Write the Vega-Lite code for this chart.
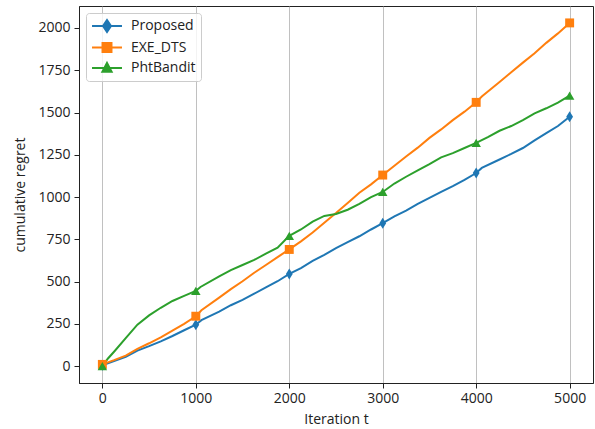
{
  "$schema": "https://vega.github.io/schema/vega-lite/v6.json",
  "width": 514,
  "height": 377,
  "autosize": "none",
  "padding": {"left": 79, "top": 6, "right": 2, "bottom": 46},
  "background": "white",
  "config": {
    "view": {"stroke": "#222", "strokeWidth": 1},
    "font": "Open Sans",
    "axis": {
      "labelFont": "Open Sans",
      "titleFont": "Open Sans",
      "labelFontSize": 14,
      "titleFontSize": 14,
      "labelColor": "#222",
      "titleColor": "#222",
      "titleFontWeight": "normal",
      "domainColor": "#222",
      "tickColor": "#222",
      "tickSize": 5,
      "labelPadding": 4,
      "format": "d"
    }
  },
  "data": {
    "values": [
      {"t": 0, "s": "Proposed", "v": 5},
      {"t": 125, "s": "Proposed", "v": 30},
      {"t": 250, "s": "Proposed", "v": 55},
      {"t": 375, "s": "Proposed", "v": 92},
      {"t": 500, "s": "Proposed", "v": 118},
      {"t": 625, "s": "Proposed", "v": 146},
      {"t": 750, "s": "Proposed", "v": 178},
      {"t": 875, "s": "Proposed", "v": 212},
      {"t": 1000, "s": "Proposed", "v": 245},
      {"t": 1060, "s": "Proposed", "v": 272},
      {"t": 1250, "s": "Proposed", "v": 322},
      {"t": 1375, "s": "Proposed", "v": 360},
      {"t": 1500, "s": "Proposed", "v": 392},
      {"t": 1625, "s": "Proposed", "v": 428},
      {"t": 1750, "s": "Proposed", "v": 465},
      {"t": 1875, "s": "Proposed", "v": 502},
      {"t": 2000, "s": "Proposed", "v": 545},
      {"t": 2125, "s": "Proposed", "v": 580},
      {"t": 2250, "s": "Proposed", "v": 622},
      {"t": 2375, "s": "Proposed", "v": 658},
      {"t": 2500, "s": "Proposed", "v": 698},
      {"t": 2625, "s": "Proposed", "v": 733},
      {"t": 2750, "s": "Proposed", "v": 768},
      {"t": 2875, "s": "Proposed", "v": 808},
      {"t": 3000, "s": "Proposed", "v": 845},
      {"t": 3125, "s": "Proposed", "v": 885},
      {"t": 3250, "s": "Proposed", "v": 920},
      {"t": 3375, "s": "Proposed", "v": 960},
      {"t": 3500, "s": "Proposed", "v": 995},
      {"t": 3625, "s": "Proposed", "v": 1030},
      {"t": 3750, "s": "Proposed", "v": 1065},
      {"t": 3875, "s": "Proposed", "v": 1102},
      {"t": 4000, "s": "Proposed", "v": 1142},
      {"t": 4060, "s": "Proposed", "v": 1172},
      {"t": 4250, "s": "Proposed", "v": 1222},
      {"t": 4375, "s": "Proposed", "v": 1255},
      {"t": 4500, "s": "Proposed", "v": 1290},
      {"t": 4625, "s": "Proposed", "v": 1335},
      {"t": 4750, "s": "Proposed", "v": 1378},
      {"t": 4875, "s": "Proposed", "v": 1420},
      {"t": 5000, "s": "Proposed", "v": 1475},
      {"t": 0, "s": "EXE_DTS", "v": 10},
      {"t": 125, "s": "EXE_DTS", "v": 35},
      {"t": 250, "s": "EXE_DTS", "v": 62},
      {"t": 375, "s": "EXE_DTS", "v": 102},
      {"t": 500, "s": "EXE_DTS", "v": 135},
      {"t": 625, "s": "EXE_DTS", "v": 170},
      {"t": 750, "s": "EXE_DTS", "v": 210},
      {"t": 875, "s": "EXE_DTS", "v": 250},
      {"t": 1000, "s": "EXE_DTS", "v": 295},
      {"t": 1060, "s": "EXE_DTS", "v": 330},
      {"t": 1250, "s": "EXE_DTS", "v": 405},
      {"t": 1375, "s": "EXE_DTS", "v": 455},
      {"t": 1500, "s": "EXE_DTS", "v": 502},
      {"t": 1625, "s": "EXE_DTS", "v": 552},
      {"t": 1750, "s": "EXE_DTS", "v": 598},
      {"t": 1875, "s": "EXE_DTS", "v": 645},
      {"t": 2000, "s": "EXE_DTS", "v": 690},
      {"t": 2125, "s": "EXE_DTS", "v": 738},
      {"t": 2250, "s": "EXE_DTS", "v": 790},
      {"t": 2375, "s": "EXE_DTS", "v": 848},
      {"t": 2500, "s": "EXE_DTS", "v": 905},
      {"t": 2625, "s": "EXE_DTS", "v": 965},
      {"t": 2750, "s": "EXE_DTS", "v": 1025},
      {"t": 2875, "s": "EXE_DTS", "v": 1075},
      {"t": 3000, "s": "EXE_DTS", "v": 1130},
      {"t": 3125, "s": "EXE_DTS", "v": 1185},
      {"t": 3250, "s": "EXE_DTS", "v": 1240},
      {"t": 3375, "s": "EXE_DTS", "v": 1292},
      {"t": 3500, "s": "EXE_DTS", "v": 1350},
      {"t": 3625, "s": "EXE_DTS", "v": 1400},
      {"t": 3750, "s": "EXE_DTS", "v": 1455},
      {"t": 3875, "s": "EXE_DTS", "v": 1505},
      {"t": 4000, "s": "EXE_DTS", "v": 1560},
      {"t": 4060, "s": "EXE_DTS", "v": 1595},
      {"t": 4250, "s": "EXE_DTS", "v": 1680},
      {"t": 4375, "s": "EXE_DTS", "v": 1738},
      {"t": 4500, "s": "EXE_DTS", "v": 1795},
      {"t": 4625, "s": "EXE_DTS", "v": 1850},
      {"t": 4750, "s": "EXE_DTS", "v": 1912},
      {"t": 4875, "s": "EXE_DTS", "v": 1968},
      {"t": 5000, "s": "EXE_DTS", "v": 2030},
      {"t": 0, "s": "PhtBandit", "v": 0},
      {"t": 60, "s": "PhtBandit", "v": 45},
      {"t": 125, "s": "PhtBandit", "v": 85},
      {"t": 250, "s": "PhtBandit", "v": 165},
      {"t": 375, "s": "PhtBandit", "v": 245},
      {"t": 500, "s": "PhtBandit", "v": 300},
      {"t": 625, "s": "PhtBandit", "v": 345},
      {"t": 750, "s": "PhtBandit", "v": 385},
      {"t": 875, "s": "PhtBandit", "v": 415},
      {"t": 1000, "s": "PhtBandit", "v": 445},
      {"t": 1050, "s": "PhtBandit", "v": 468},
      {"t": 1250, "s": "PhtBandit", "v": 530},
      {"t": 1375, "s": "PhtBandit", "v": 568},
      {"t": 1500, "s": "PhtBandit", "v": 598},
      {"t": 1625, "s": "PhtBandit", "v": 628},
      {"t": 1750, "s": "PhtBandit", "v": 665},
      {"t": 1875, "s": "PhtBandit", "v": 700},
      {"t": 2000, "s": "PhtBandit", "v": 770},
      {"t": 2125, "s": "PhtBandit", "v": 808},
      {"t": 2250, "s": "PhtBandit", "v": 855},
      {"t": 2375, "s": "PhtBandit", "v": 888},
      {"t": 2500, "s": "PhtBandit", "v": 900},
      {"t": 2625, "s": "PhtBandit", "v": 925},
      {"t": 2750, "s": "PhtBandit", "v": 960},
      {"t": 2875, "s": "PhtBandit", "v": 1000},
      {"t": 3000, "s": "PhtBandit", "v": 1030},
      {"t": 3125, "s": "PhtBandit", "v": 1080},
      {"t": 3250, "s": "PhtBandit", "v": 1120},
      {"t": 3375, "s": "PhtBandit", "v": 1158},
      {"t": 3500, "s": "PhtBandit", "v": 1195},
      {"t": 3625, "s": "PhtBandit", "v": 1235},
      {"t": 3750, "s": "PhtBandit", "v": 1260},
      {"t": 3875, "s": "PhtBandit", "v": 1290},
      {"t": 4000, "s": "PhtBandit", "v": 1320},
      {"t": 4125, "s": "PhtBandit", "v": 1355},
      {"t": 4250, "s": "PhtBandit", "v": 1392},
      {"t": 4375, "s": "PhtBandit", "v": 1420},
      {"t": 4500, "s": "PhtBandit", "v": 1455},
      {"t": 4625, "s": "PhtBandit", "v": 1495},
      {"t": 4750, "s": "PhtBandit", "v": 1525},
      {"t": 4875, "s": "PhtBandit", "v": 1558},
      {"t": 5000, "s": "PhtBandit", "v": 1600}
    ]
  },
  "encoding": {
    "x": {
      "field": "t", "type": "quantitative",
      "scale": {"domain": [-250, 5250], "nice": false, "zero": false},
      "axis": {"values": [0, 1000, 2000, 3000, 4000, 5000], "title": "Iteration t", "grid": true, "gridColor": "#b0b0b0", "gridWidth": 0.8, "titlePadding": 7, "labelPadding": 3, "labelFlush": false}
    },
    "y": {
      "field": "v", "type": "quantitative",
      "scale": {"domain": [-100, 2130], "nice": false, "zero": false},
      "axis": {"values": [0, 250, 500, 750, 1000, 1250, 1500, 1750, 2000], "title": "cumulative regret", "grid": false, "titlePadding": 10}
    },
    "color": {
      "field": "s", "type": "nominal",
      "scale": {"domain": ["Proposed", "EXE_DTS", "PhtBandit"], "range": ["#1f77b4", "#ff7f0e", "#2ca02c"]},
      "legend": {
        "title": null,
        "orient": "top-left",
        "offset": 7,
        "padding": 5,
        "rowPadding": 1.5,
        "labelFont": "Open Sans",
        "labelFontSize": 14,
        "labelColor": "#222",
        "symbolSize": 196,
        "symbolOffset": 8,
        "labelOffset": 16,
        "symbolStrokeWidth": 2,
        "fillColor": "rgba(255,255,255,0.8)",
        "strokeColor": "#cccccc",
        "cornerRadius": 3,
        "encode": {
          "symbols": {
            "update": {
              "shape": {"signal": "datum.value == 'Proposed' ? 'M-2.14,0H2.14M0,-0.86L0.57,0L0,0.86L-0.57,0Z' : datum.value == 'EXE_DTS' ? 'M-2.14,0H2.14M-0.64,-0.64H0.64V0.64H-0.64Z' : 'M-2.14,0H2.14M0,-0.72L0.66,0.55H-0.66Z'"},
              "fill": {"signal": "scale('color', datum.value)"},
              "stroke": {"signal": "scale('color', datum.value)"},
              "strokeWidth": {"value": 2},
              "opacity": {"value": 1}
            }
          }
        }
      }
    }
  },
  "layer": [
    {
      "mark": {"type": "line", "strokeWidth": 2, "interpolate": "linear"}
    },
    {
      "transform": [{"filter": "datum.t % 1000 == 0 && datum.s == 'Proposed'"}],
      "mark": {"type": "point", "filled": true, "opacity": 1, "shape": "M0,-1L0.62,0L0,1L-0.62,0Z", "size": 120}
    },
    {
      "transform": [{"filter": "datum.t % 1000 == 0 && datum.s == 'EXE_DTS'"}],
      "mark": {"type": "point", "filled": true, "opacity": 1, "shape": "square", "size": 80}
    },
    {
      "transform": [{"filter": "datum.t % 1000 == 0 && datum.s == 'PhtBandit'"}],
      "mark": {"type": "point", "filled": true, "opacity": 1, "shape": "triangle-up", "size": 90}
    }
  ]
}
